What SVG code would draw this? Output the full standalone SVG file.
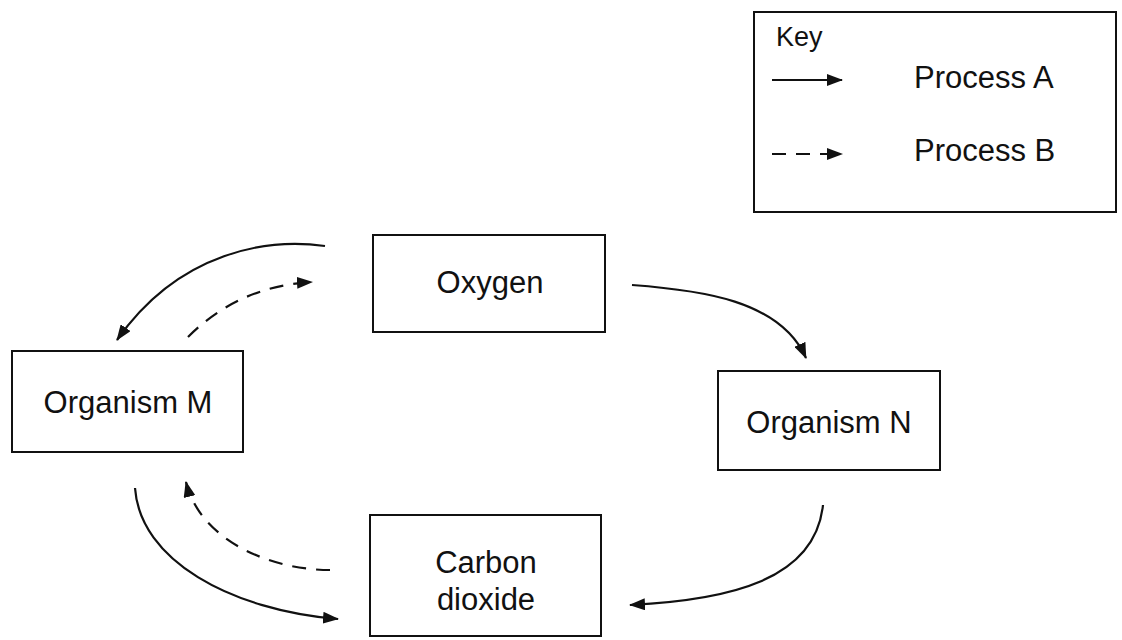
<svg xmlns="http://www.w3.org/2000/svg" width="1122" height="640" viewBox="0 0 1122 640">
<defs>
<style>
.box{fill:#fff;stroke:#111;stroke-width:2}
.t{font-family:"Liberation Sans",Arial,sans-serif;font-size:31px;fill:#111;text-anchor:middle}
.tl{font-family:"Liberation Sans",Arial,sans-serif;font-size:31px;fill:#111}
.a{fill:none;stroke:#111;stroke-width:2.2;marker-end:url(#ah)}
.b{fill:none;stroke:#111;stroke-width:2.2;stroke-dasharray:14,10;marker-end:url(#ah)}
</style>
<marker id="ah" viewBox="0 0 16 12" refX="15" refY="6" markerWidth="16" markerHeight="12" markerUnits="userSpaceOnUse" orient="auto">
<path d="M0,0 L16,6 L0,12 Z" fill="#111"/>
</marker>
</defs>
<rect width="1122" height="640" fill="#fff"/>
<g id="key">
<rect class="box" x="754" y="12" width="362" height="200"/>
<text class="tl" x="776" y="46" style="font-size:27px">Key</text>
<line class="a" x1="772" y1="80" x2="842" y2="80"/>
<text class="tl" x="914" y="88">Process A</text>
<line class="b" x1="772" y1="154" x2="842" y2="154"/>
<text class="tl" x="914" y="161">Process B</text>
</g>
<g id="oxygen">
<rect class="box" x="373" y="235" width="232" height="97"/>
<text class="t" x="490" y="293">Oxygen</text>
</g>
<g id="organismM">
<rect class="box" x="12" y="351" width="231" height="101"/>
<text class="t" x="128" y="413">Organism M</text>
</g>
<g id="organismN">
<rect class="box" x="718" y="371" width="222" height="99"/>
<text class="t" x="829" y="433">Organism N</text>
</g>
<g id="co2">
<rect class="box" x="370" y="515" width="231" height="121"/>
<text class="t" x="486" y="573">Carbon</text>
<text class="t" x="486" y="610">dioxide</text>
</g>
<g id="connectors">
<path class="a" d="M325,246 C270,238 180,250 117,340"/>
<path class="b" d="M188,337 C220,305 260,285 312,282"/>
<path class="a" d="M632,285 C700,290 780,300 806,358"/>
<path class="a" d="M823,505 C815,580 730,600 630,605"/>
<path class="a" d="M135,488 C140,560 230,610 338,619"/>
<path class="b" d="M330,570 C270,570 200,540 186,482"/>
</g>
</svg>
